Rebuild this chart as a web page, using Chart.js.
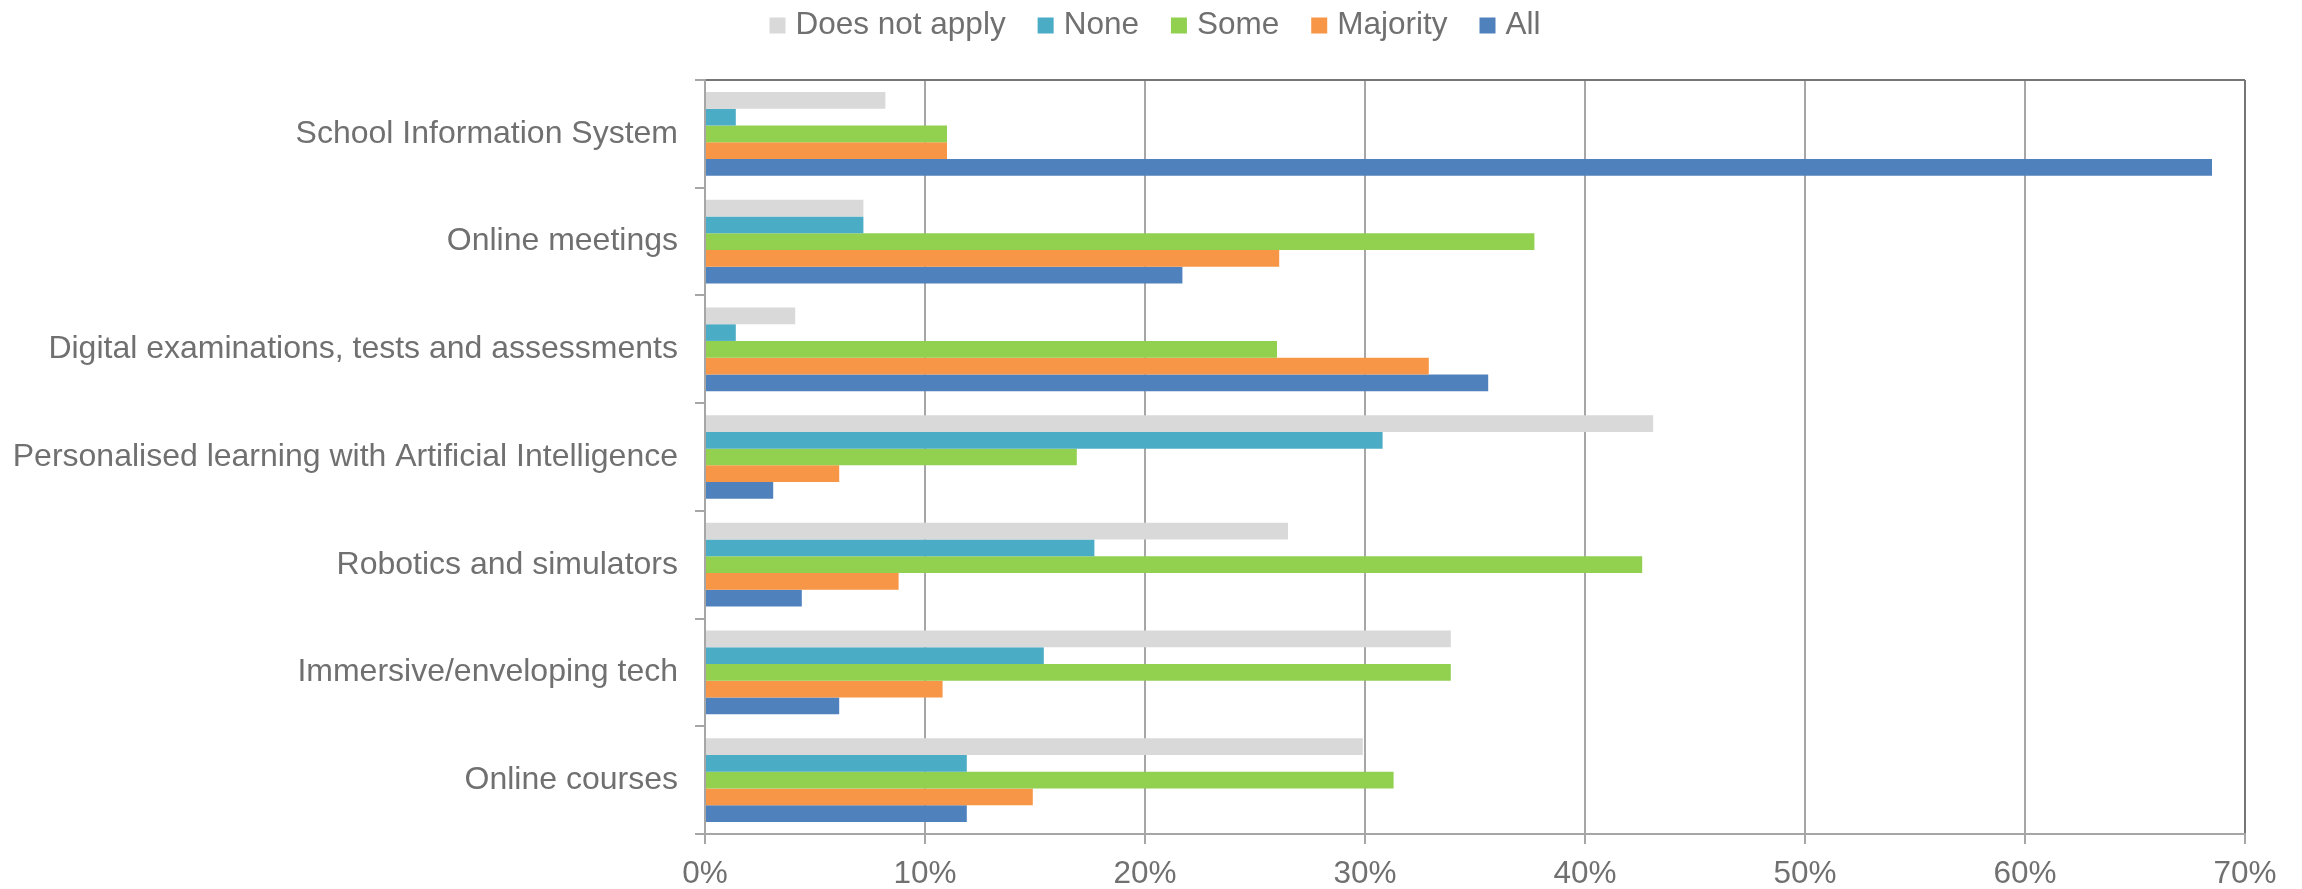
<!DOCTYPE html>
<html>
<head>
<meta charset="utf-8">
<script src="https://cdn.jsdelivr.net/npm/chart.js@4.4.1/dist/chart.umd.min.js"></script>
<style>
  body { margin: 0; background: #fff; }
  canvas { display: block; }
</style>
</head>
<body>
<canvas id="myChart" width="2302" height="889"></canvas>
<script>
const categories = [
    'School Information System',
    'Online meetings',
    'Digital examinations, tests and assessments',
    'Personalised learning with Artificial Intelligence',
    'Robotics and simulators',
    'Immersive/enveloping tech',
    'Online courses'
];

// share of schools, in percent
const doesNotApply = [8.2, 7.2, 4.1, 43.1, 26.5, 33.9, 29.9];
const none = [1.4, 7.2, 1.4, 30.8, 17.7, 15.4, 11.9];
const some = [11.0, 37.7, 26.0, 16.9, 42.6, 33.9, 31.3];
const majority = [11.0, 26.1, 32.9, 6.1, 8.8, 10.8, 14.9];
const all = [68.5, 21.7, 35.6, 3.1, 4.4, 6.1, 11.9];

const tickLabels = ['0%', '10%', '20%', '30%', '40%', '50%', '60%', '70%'];

const textColor = '#707070';
const fontFamily = '"Liberation Sans", Arial, sans-serif';
const fontSize = 31.5;

// legend row above the plot: square swatch + label, centred
const topLegend = {
    id: 'topLegend',
    afterDraw(chart) {
        const ctx = chart.ctx;
        ctx.save();
        ctx.font = fontSize + 'px ' + fontFamily;
        const items = chart.data.datasets.map(ds => ({
            text: ds.label,
            color: ds.backgroundColor,
            w: ctx.measureText(ds.label).width
        }));
        const total = items.reduce((s, it) => s + 26 + it.w, 0) + 32 * (items.length - 1);
        let x = (chart.width - total) / 2 + 4;
        items.forEach(it => {
            ctx.fillStyle = it.color;
            ctx.fillRect(x, 17.5, 16, 16);
            ctx.fillStyle = textColor;
            ctx.textBaseline = 'alphabetic';
            ctx.fillText(it.text, x + 26, 33.5);
            x += 26 + it.w + 32;
        });
        ctx.restore();
    }
};

const ctx = document.getElementById('myChart').getContext('2d');
new Chart(ctx, {
    type: 'bar',
    data: {
        labels: categories,
        datasets: [
            { label: 'Does not apply', data: doesNotApply, backgroundColor: '#d9d9d9' },
            { label: 'None', data: none, backgroundColor: '#4bacc6' },
            { label: 'Some', data: some, backgroundColor: '#92d050' },
            { label: 'Majority', data: majority, backgroundColor: '#f79646' },
            { label: 'All', data: all, backgroundColor: '#4f81bd' }
        ]
    },
    options: {
        indexAxis: 'y',
        responsive: false,
        animation: false,
        barPercentage: 1,
        categoryPercentage: 0.777,
        layout: {
            padding: { top: 80, right: 57, bottom: 0, left: 0 }
        },
        scales: {
            x: {
                min: 0,
                max: 70,
                ticks: {
                    stepSize: 10,
                    color: textColor,
                    padding: 11,
                    font: { family: fontFamily, size: fontSize },
                    callback: (value, index) => tickLabels[index]
                },
                grid: {
                    color: c => (c.tick && c.tick.value === 70) ? '#767676' : '#a6a6a6',
                    lineWidth: 2,
                    tickLength: 10,
                    tickColor: '#a6a6a6'
                },
                border: { color: '#a6a6a6', width: 2 },
                afterFit: scale => { scale.height = 55; }
            },
            y: {
                ticks: {
                    color: textColor,
                    padding: 17,
                    font: { family: fontFamily, size: 32 }
                },
                grid: {
                    // only the top edge of the plot is drawn across; the rest are just ticks
                    color: c => c.index === 0 ? '#767676' : 'rgba(0,0,0,0)',
                    lineWidth: 2,
                    tickLength: 10,
                    tickColor: '#a6a6a6'
                },
                border: { color: '#a6a6a6', width: 2 },
                afterFit: scale => { scale.width = 705; }
            }
        },
        plugins: {
            legend: { display: false },
            tooltip: { enabled: false }
        }
    },
    plugins: [topLegend]
});
</script>
</body>
</html>
